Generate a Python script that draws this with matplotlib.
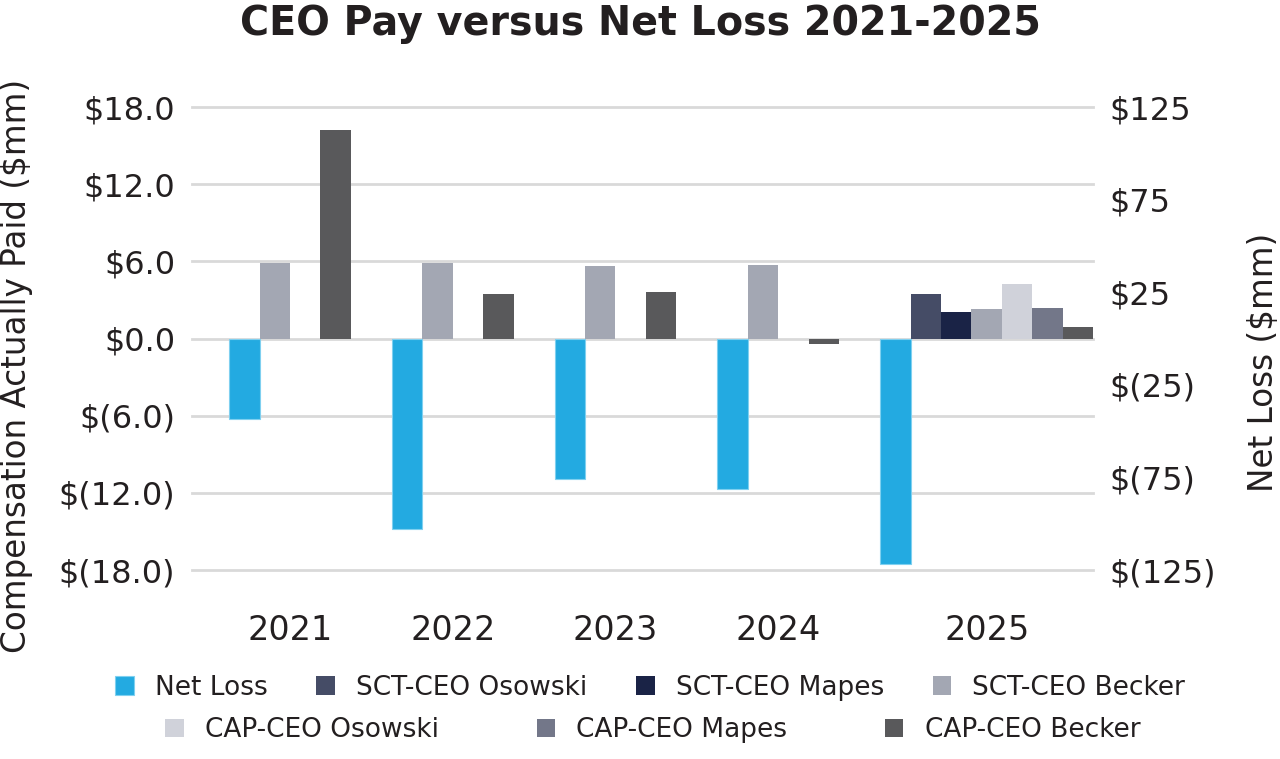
import matplotlib.pyplot as plt
from matplotlib.ticker import FuncFormatter

# ---- data ($mm) ----
years = ["2021", "2022", "2023", "2024", "2025"]
net_loss = [-43.5, -103.0, -76.0, -81.0, -121.5]   # right axis
sct_osowski = [None, None, None, None, 3.5]
sct_mapes = [None, None, None, None, 2.1]
sct_becker = [5.9, 5.9, 5.6, 5.7, 2.3]
cap_osowski = [None, None, None, None, 4.25]
cap_mapes = [0.0, 0.0, 0.0, 0.0, 2.4]
cap_becker = [16.2, 3.5, 3.6, -0.4, 0.9]

left_ticks = [-18, -12, -6, 0, 6, 12, 18]
right_ticks = [-125, -75, -25, 25, 75, 125]

TEXT = "#231f20"
plt.rcParams["font.family"] = ["DejaVu Sans"]
plt.rcParams["text.color"] = TEXT

fig = plt.figure(figsize=(12.8, 7.59), dpi=100)
ax = fig.add_axes([0.15, 0.249, 0.704, 0.61])
ax2 = ax.twinx()

series = [
    ("Net Loss", net_loss, "#23aae1", ax2),
    ("SCT-CEO Osowski", sct_osowski, "#454c66", ax),
    ("SCT-CEO Mapes", sct_mapes, "#1a2346", ax),
    ("SCT-CEO Becker", sct_becker, "#a3a7b3", ax),
    ("CAP-CEO Osowski", cap_osowski, "#d0d2da", ax),
    ("CAP-CEO Mapes", cap_mapes, "#737789", ax),
    ("CAP-CEO Becker", cap_becker, "#59595b", ax),
]

# groups only hold the series that have a value that year
gap = 1.35
pos = {name: ([], []) for name, *_ in series}
centers = []
start = 0.0
for i in range(len(years)):
    slot = 0
    for name, vals, _, _ in series:
        if vals[i] is None:
            continue
        pos[name][0].append(start + slot + 0.5)
        pos[name][1].append(vals[i])
        slot += 1
    centers.append(start + slot / 2)
    start += slot + gap

handles = {}
for name, _, color, axis in series:
    xs, hs = pos[name]
    edge = "#7fd0f0" if name == "Net Loss" else "none"
    handles[name] = axis.bar(xs, hs, width=1.0, color=color, edgecolor=edge,
                             linewidth=0.8, label=name, zorder=3)

ax.set_xlim(-1.22, start - gap)
ax.set_ylim(-18, 18)
ax2.set_ylim(-125, 125)

ax.set_yticks(left_ticks)
ax2.set_yticks(right_ticks)
ax.yaxis.set_major_formatter(FuncFormatter(
    lambda v, _: f"${v:.1f}" if v >= 0 else f"$({-v:.1f})"))
ax2.yaxis.set_major_formatter(FuncFormatter(
    lambda v, _: f"${v:.0f}" if v >= 0 else f"$({-v:.0f})"))

ax.grid(axis="y", color="#d9d9d9", linewidth=2)
ax.set_axisbelow(True)
for gl in ax.get_ygridlines():
    gl.set_clip_on(False)

ax.set_xticks(centers, years)
ax.tick_params(axis="x", length=0, pad=32, labelsize=24, labelcolor=TEXT)
ax.tick_params(axis="y", length=0, pad=12, labelsize=23, labelcolor=TEXT)
ax2.tick_params(axis="y", length=0, pad=12, labelsize=23, labelcolor=TEXT)

for a in (ax, ax2):
    for s in a.spines.values():
        s.set_visible(False)

fig.text(0.5, 0.968, "CEO Pay versus Net Loss 2021-2025", ha="center", va="center",
         fontsize=28.5, fontweight="bold")
fig.text(0.013, 0.518, "Compensation Actually Paid ($mm)", rotation=90,
         ha="center", va="center", fontsize=23.5)
fig.text(0.987, 0.522, "Net Loss ($mm)", rotation=90,
         ha="center", va="center", fontsize=23.5)

row1 = ["Net Loss", "SCT-CEO Osowski", "SCT-CEO Mapes", "SCT-CEO Becker"]
row2 = ["CAP-CEO Osowski", "CAP-CEO Mapes", "CAP-CEO Becker"]
leg_kw = dict(frameon=False, fontsize=19, handlelength=0.7, handleheight=0.7,
              handletextpad=0.8, borderpad=0)
fig.legend([handles[n] for n in row1], row1, ncol=4, loc="center",
           bbox_to_anchor=(0.508, 0.094), columnspacing=1.85, **leg_kw)
fig.legend([handles[n] for n in row2], row2, ncol=3, loc="center",
           bbox_to_anchor=(0.51, 0.038), columnspacing=3.7, **leg_kw)

fig.savefig("out.png", dpi=100)
